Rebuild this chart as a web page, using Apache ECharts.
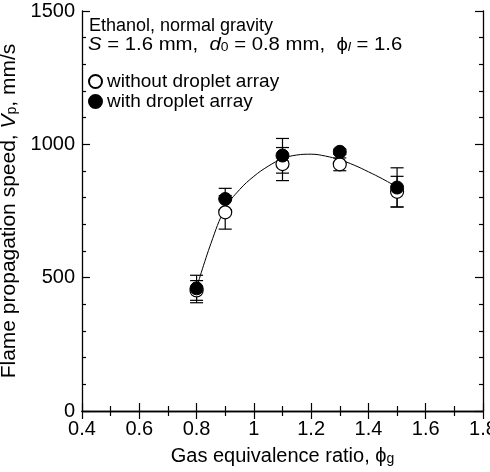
<!DOCTYPE html>
<html>
<head>
<meta charset="utf-8">
<script src="https://cdn.jsdelivr.net/npm/echarts@6/dist/echarts.min.js"></script>
<style>
  html, body { margin: 0; padding: 0; background: #fff; }
  #chart { width: 490px; height: 472px; }
</style>
</head>
<body>
<div id="chart"></div>
<script>
  // gas equivalence ratio of each measurement
  var phiG = [0.8, 0.9, 1.1, 1.3, 1.5]
  // without droplet array (open circles)
  var without = [452, 745, 926, 925, 822]
  var withoutLo = [415, 682, 864, 901, 765]
  var withoutHi = [489, 808, 988, 949, 880]
  // with droplet array (filled circles)
  var withArr = [460, 795, 958, 972, 838]
  var withLo = [406, 755, 892, 962, 765]
  var withHi = [509, 835, 1022, 982, 912]
  // fitted curve
  var fitX = [0.8, 0.85, 0.9, 0.95, 1.0, 1.05, 1.1, 1.15, 1.2, 1.25, 1.3, 1.35, 1.4, 1.45, 1.5]
  var fitY = [462, 628, 760, 830, 880, 918, 946, 960, 963, 956, 942, 922, 897, 870, 840]

  var font = '"Liberation Sans", Arial, sans-serif'

  function pairs(xs, ys) {
    return xs.map(function (x, i) { return [x, ys[i]] })
  }
  function bars(xs, lo, hi) {
    return xs.map(function (x, i) { return [x, lo[i], hi[i]] })
  }

  function errRender(params, api) {
    var x = api.value(0)
    var p1 = api.coord([x, api.value(1)])
    var p2 = api.coord([x, api.value(2)])
    var w = 6.5
    var st = { stroke: '#000', lineWidth: 1.2 }
    return {
      type: 'group',
      children: [
        { type: 'line', shape: { x1: p1[0], y1: p1[1], x2: p2[0], y2: p2[1] }, style: st },
        { type: 'line', shape: { x1: p1[0] - w, y1: p1[1], x2: p1[0] + w, y2: p1[1] }, style: st },
        { type: 'line', shape: { x1: p2[0] - w, y1: p2[1], x2: p2[0] + w, y2: p2[1] }, style: st }
      ]
    }
  }

  var axisLine = { show: true, lineStyle: { color: '#000', width: 1.3 } }
  var tick = { show: true, inside: true, length: 8, lineStyle: { color: '#000', width: 1.2 } }

  var chart = echarts.init(document.getElementById('chart'))
  var options = {
    animation: false,
    textStyle: { fontFamily: font },
    grid: { left: 82, right: 7, top: 11, bottom: 61, containLabel: false, outerBoundsMode: 'none' },
    legend: {
      orient: 'vertical',
      left: 88,
      top: 72,
      padding: 0,
      itemWidth: 13,
      itemHeight: 13,
      itemGap: 1,
      icon: 'circle',
      textStyle: { fontSize: 19, lineHeight: 19, color: '#000', fontFamily: font },
      data: ['without droplet array', 'with droplet array']
    },
    graphic: [
      {
        type: 'text', left: 89, top: 17,
        style: { text: 'Ethanol, normal gravity', font: '18px ' + font, fill: '#000' }
      },
      {
        type: 'text', left: 88, top: 35, scaleX: 1.07,
        style: {
          text: '{i|S} = 1.6 mm,  {i|d}{s|0} = 0.8 mm,  ϕ{si|l} = 1.6',
          font: '19px ' + font, fill: '#000',
          rich: {
            i: { fontStyle: 'italic', fontSize: 19, fontFamily: font },
            s: { fontSize: 13, fontFamily: font, verticalAlign: 'bottom', lineHeight: 12 },
            si: { fontSize: 13, fontStyle: 'italic', fontFamily: font, verticalAlign: 'bottom', lineHeight: 12 }
          }
        }
      }
    ],
    xAxis: [{
      type: 'value', min: 0.4, max: 1.8, interval: 0.2,
      axisLine: axisLine, axisTick: tick,
      minorTick: { show: true, splitNumber: 2, length: 5, lineStyle: { color: '#000', width: 1.2 } },
      splitLine: { show: false },
      axisLabel: {
        color: '#000', fontSize: 20, margin: 8, fontFamily: font,
        formatter: function (v) { return String(+v.toFixed(1)) }
      },
      name: 'Gas equivalence ratio, ϕ{s|g}',
      nameLocation: 'middle', nameGap: 35,
      nameTextStyle: {
        color: '#000', fontSize: 20, fontFamily: font,
        rich: { s: { fontSize: 14, fontFamily: font, verticalAlign: 'bottom', lineHeight: 12 } }
      }
    }, {
      type: 'value', position: 'top', min: 0.4, max: 1.8, interval: 0.2,
      axisLine: axisLine, axisTick: tick,
      minorTick: { show: true, splitNumber: 2, length: 5, lineStyle: { color: '#000', width: 1.2 } },
      splitLine: { show: false }, axisLabel: { show: false }
    }],
    yAxis: [{
      type: 'value', min: 0, max: 1500, interval: 500,
      axisLine: axisLine, axisTick: tick,
      minorTick: { show: true, splitNumber: 5, length: 4, lineStyle: { color: '#000', width: 1.2 } },
      splitLine: { show: false },
      axisLabel: {
        color: '#000', fontSize: 20, margin: 7, fontFamily: font,
        formatter: function (v) { return String(v) }
      },
      name: 'Flame propagation speed, {i|V}{s|p}, mm/s',
      nameLocation: 'middle', nameGap: 53,
      nameTextStyle: {
        color: '#000', fontSize: 21, fontFamily: font,
        rich: {
          i: { fontStyle: 'italic', fontSize: 21, fontFamily: font },
          s: { fontSize: 14, fontFamily: font, verticalAlign: 'bottom', lineHeight: 12 }
        }
      }
    }, {
      type: 'value', position: 'right', min: 0, max: 1500, interval: 500,
      axisLine: axisLine, axisTick: tick,
      minorTick: { show: true, splitNumber: 5, length: 4, lineStyle: { color: '#000', width: 1.2 } },
      splitLine: { show: false }, axisLabel: { show: false }
    }],
    series: [
      {
        type: 'custom', name: 'err without', z: 1,
        renderItem: errRender, data: bars(phiG, withoutLo, withoutHi)
      },
      {
        type: 'custom', name: 'err with', z: 1,
        renderItem: errRender, data: bars(phiG, withLo, withHi)
      },
      {
        type: 'line', name: 'fit', z: 2, smooth: 0.4, symbol: 'none',
        lineStyle: { color: '#000', width: 1 },
        data: pairs(fitX, fitY)
      },
      {
        type: 'scatter', name: 'without droplet array', z: 3, symbolSize: 13,
        itemStyle: { color: '#fff', borderColor: '#000', borderWidth: 1.2, opacity: 1 },
        data: pairs(phiG, without)
      },
      {
        type: 'scatter', name: 'with droplet array', z: 4, symbolSize: 13,
        itemStyle: { color: '#000', borderColor: '#000', borderWidth: 1, opacity: 1 },
        data: pairs(phiG, withArr)
      }
    ]
  }
  chart.setOption(options, true)
</script>
</body>
</html>
